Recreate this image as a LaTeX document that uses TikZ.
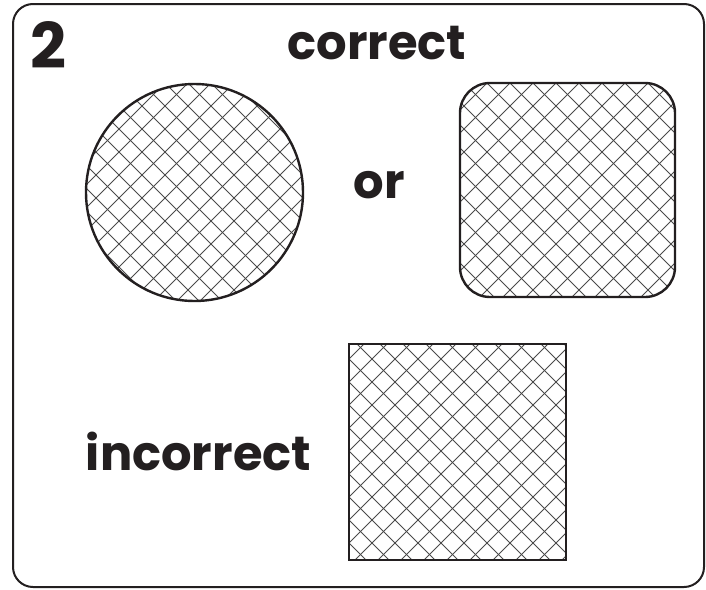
\documentclass[tikz,border=0pt]{standalone}
\usepackage{fontspec}
\setmainfont{Poppins}
\pgfdeclarelayer{background}
\pgfsetlayers{background,main}
\definecolor{ink}{HTML}{231F20}
\definecolor{hatchc}{HTML}{4A4A4A}
\tikzset{
  shapeline/.style={draw=ink, line width=2.4pt, inner sep=0pt, outer sep=0pt},
  hatch/.style={draw=hatchc, line width=0.9pt},
  lbl/.style={font=\bfseries\fontsize{48}{56}\selectfont, text=ink, inner sep=0pt, anchor=base},
}
\newcommand\hatchlines{%
  \foreach \c in {-401,-378,...,1000} {\draw[hatch] (\c,0) -- (\c+700,700);}
  \foreach \c in {18,41,...,1500} {\draw[hatch] (\c,0) -- (\c-700,700);}
}
\begin{document}
\begin{tikzpicture}[x=1pt,y=-1pt]
\useasboundingbox (0,0) rectangle (706,589);
% frame
\draw[draw=ink, line width=2pt, rounded corners=20pt] (13,4) rectangle (704,587);
% labels
\node[lbl, font=\bfseries\fontsize{63}{70}\selectfont] (num) at (48,68) {2};
\node[lbl] (correct) at (377,59) {correct};
\node[lbl] (or) at (379,198) {or};
\node[lbl] (incorrect) at (198.5,470) {incorrect};
% shapes
\node[shapeline, circle, minimum size=217pt] (circ) at (194.5,192.5) {};
\node[shapeline, rectangle, rounded corners=30pt, minimum width=215pt, minimum height=214pt] (rsq) at (567.5,190) {};
\node[shapeline, rectangle, minimum width=217pt, minimum height=216pt] (sq) at (457.5,452) {};
\begin{pgfonlayer}{background}
  \begin{scope}
    \clip (circ.center) circle (108.5pt);
    \hatchlines
  \end{scope}
  \begin{scope}
    \clip[rounded corners=30pt] (rsq.north west) rectangle (rsq.south east);
    \hatchlines
  \end{scope}
  \begin{scope}
    \clip (sq.north west) rectangle (sq.south east);
    \hatchlines
  \end{scope}
\end{pgfonlayer}
\end{tikzpicture}
\end{document}
